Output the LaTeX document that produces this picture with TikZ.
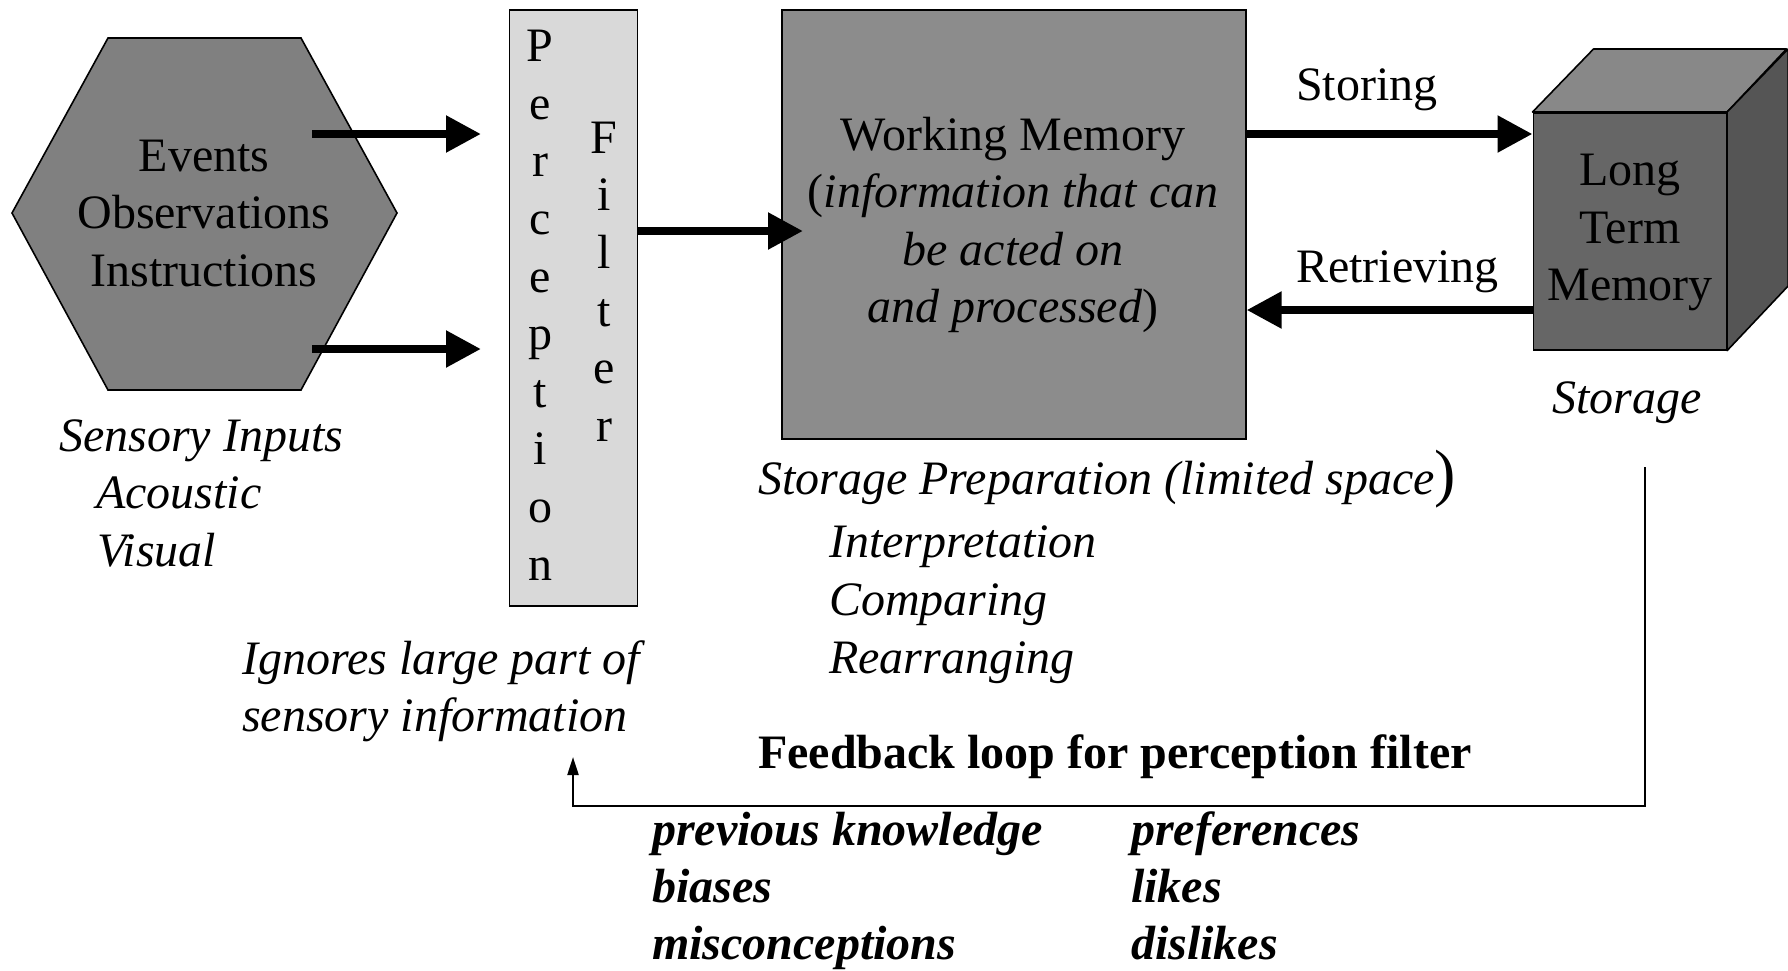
\documentclass[tikz,border=0pt]{standalone}
\usepackage{fontspec}
\setmainfont{Liberation Serif}
\usetikzlibrary{arrows.meta}

\definecolor{hexfill}{HTML}{808080}
\definecolor{filterfill}{HTML}{D9D9D9}
\definecolor{wmfill}{HTML}{8C8C8C}
\definecolor{cubefront}{HTML}{666666}
\definecolor{cubetop}{HTML}{888888}
\definecolor{cubeside}{HTML}{555555}

\tikzset{
  txt/.style={inner sep=0pt, font=\fontsize{48}{57.6}\selectfont},
  lt/.style={txt, anchor=base west},
  ct/.style={txt, anchor=base},
  outline/.style={draw=black, line width=1.6pt},
  bigarrow/.style={line width=8.3pt, -{Triangle[length=35pt,width=35pt]}},
  thinarrow/.style={line width=2.2pt, -{Triangle[length=18pt,width=11pt]}},
}

\begin{document}
\begin{tikzpicture}[x=1pt,y=-1pt]
\useasboundingbox (0,0) rectangle (1788,970);

% ---------- sensory inputs (hexagon) ----------
\filldraw[outline, fill=hexfill] (12,213) -- (108,38) -- (301,38) -- (397,213)
  -- (301,390) -- (108,390) -- cycle;
\coordinate (hex) at (204,214);
\node[ct] (ev)  at (204,171)   {Events};
\node[ct] (obs) at (204,228.6) {Observations};
\node[ct] (ins) at (204,286.2) {Instructions};

\node[lt] (sens) at (59,451.5) {\itshape Sensory Inputs};
\node[lt] (acou) at (96,508.5) {\itshape Acoustic};
\node[lt] (vis)  at (97,566)   {\itshape Visual};

% ---------- perception filter ----------
\node[outline, fill=filterfill, inner sep=0pt, minimum width=128pt,
      minimum height=596pt, anchor=north west] (filter) at (508.5,9) {};
\foreach \ch [count=\i from 0] in {P,e,r,c,e,p,t,i,o,n}
  \node[ct, name=pc\i] at (540,{61.7+57.6*\i}) {\ch};
\foreach \ch [count=\i from 0] in {F,i,l,t,e,r}
  \node[ct, name=fc\i] at (604,{153.3+57.6*\i}) {\ch};

\node[lt] (ign1) at (242,674) {\itshape Ignores large part of};
\node[lt] (ign2) at (242,731) {\itshape sensory information};

% ---------- working memory ----------
\node[outline, fill=wmfill, inner sep=0pt, minimum width=464pt,
      minimum height=429pt, anchor=north west] (wm) at (781,9) {};
\node[ct] (wm1) at (1013,150)   {Working Memory};
\node[ct] (wm2) at (1013,207.6) {(\textit{information that can}};
\node[ct] (wm3) at (1013,265.2) {\textit{be acted on}};
\node[ct] (wm4) at (1013,322.8) {\textit{and processed})};

\node[lt] (prep) at (758,494.5)
  {\itshape Storage Preparation (limited space{\upshape\fontsize{64}{64}\selectfont)}};
\node[lt] (int) at (829,557) {\itshape Interpretation};
\node[lt] (cmp) at (829,615) {\itshape Comparing};
\node[lt] (rea) at (829,673) {\itshape Rearranging};

% ---------- long term memory (cube) ----------
\node[outline, fill=cubefront, inner sep=0pt, minimum width=193pt,
      minimum height=237pt, anchor=north west] (ltm) at (1532.5,112) {};
\filldraw[outline, fill=cubetop, line join=round] (ltm.north west) -- ++(61,-63)
  -- ++(193,0) -- (ltm.north east) -- cycle;
\filldraw[outline, fill=cubeside, line join=round] (ltm.north east) -- ++(61,-63)
  -- ++(0,237) -- (ltm.south east) -- cycle;
\node[ct] (ltm1) at (1630,185.5) {Long};
\node[ct] (ltm2) at (1630,243)   {Term};
\node[ct] (ltm3) at (1630,300.6) {Memory};
\node[ct] (stor) at (1627,413)   {\itshape Storage};

\node[lt] (storing) at (1296,100) {Storing};
\node[lt] (retr)    at (1296,282) {Retrieving};

% ---------- connectors ----------
\coordinate (hexA) at (312,134);
\coordinate (hexB) at (312,349);
\coordinate (filA) at (481,134);
\coordinate (filB) at (481,349);
\coordinate (wmin) at (803,231);
\coordinate (storeY) at (0,134);
\coordinate (retrY) at (0,310);

\draw[bigarrow] (hexA) -- (filA);
\draw[bigarrow] (hexB) -- (filB);
\draw[bigarrow] (filter.east |- wmin) -- (wmin);
\draw[bigarrow] (wm.east |- storeY) -- (ltm.west |- storeY);
\draw[bigarrow] (ltm.west |- retrY) -- (wm.east |- retrY);

% ---------- feedback loop ----------
\coordinate (fbtop) at (1645,467);
\coordinate (fbcorner) at (573,806);
\coordinate (fbend) at (573,757);
\draw[thinarrow] (fbtop) |- (fbcorner) -- (fbend);

\node[lt] (fb) at (758,768) {\bfseries Feedback loop for perception filter};

\node[lt] (k1) at (652,845) {\bfseries\itshape previous knowledge};
\node[lt] (k2) at (652,902) {\bfseries\itshape biases};
\node[lt] (k3) at (652,959) {\bfseries\itshape misconceptions};
\node[lt] (p1) at (1131,845) {\bfseries\itshape preferences};
\node[lt] (p2) at (1131,902) {\bfseries\itshape likes};
\node[lt] (p3) at (1131,959) {\bfseries\itshape dislikes};
\end{tikzpicture}
\end{document}
